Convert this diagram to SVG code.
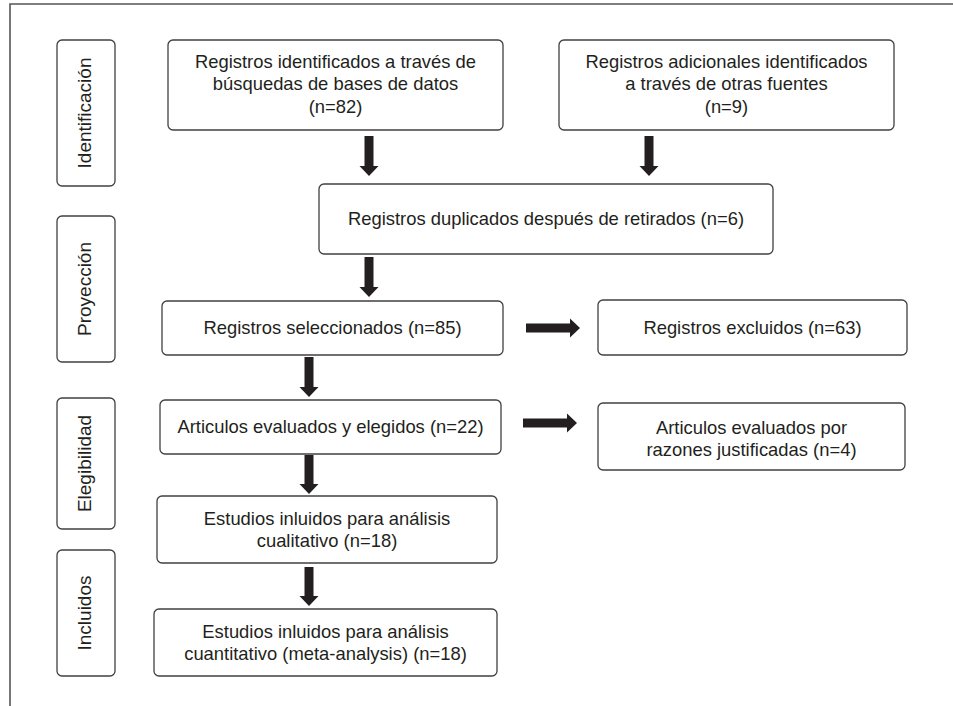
<svg xmlns="http://www.w3.org/2000/svg" width="953" height="706" viewBox="0 0 953 706">
<style>
.frame{fill:none;stroke:#555;stroke-width:1.6}
.box{fill:#fff;stroke:#404040;stroke-width:1.3}
.t{font-family:"Liberation Sans",Arial,sans-serif;font-size:18.4px;fill:#231f20;text-anchor:middle}
.s{font-size:19px}
.arr{fill:#231f20;stroke:none}
</style>
<rect width="953" height="706" fill="#fff"/>
<path class="frame" d="M10,706 V4 H953"/>

<g id="phase-identificacion"><rect class="box" x="57" y="40" width="58" height="146" rx="5"/><text class="t s" transform="translate(90.5,113) rotate(-90)">Identificación</text></g>
<g id="phase-proyeccion"><rect class="box" x="57" y="216" width="58" height="146" rx="5"/><text class="t s" transform="translate(90.5,289) rotate(-90)">Proyección</text></g>
<g id="phase-elegibilidad"><rect class="box" x="57" y="398" width="58" height="131" rx="5"/><text class="t s" transform="translate(90.5,463.5) rotate(-90)">Elegibilidad</text></g>
<g id="phase-incluidos"><rect class="box" x="57" y="550" width="58" height="126" rx="5"/><text class="t s" transform="translate(90.5,613) rotate(-90)">Incluidos</text></g>

<g id="n-db"><rect class="box" x="168" y="40" width="335" height="90" rx="5"/>
<text class="t" x="335.5" y="68">Registros identificados a través de</text>
<text class="t" x="335.5" y="90.3">búsquedas de bases de datos</text>
<text class="t" x="335.5" y="112.6">(n=82)</text></g>

<g id="n-other"><rect class="box" x="559" y="40" width="335" height="90" rx="5"/>
<text class="t" x="726.5" y="68">Registros adicionales identificados</text>
<text class="t" x="726.5" y="90.3">a través de otras fuentes</text>
<text class="t" x="726.5" y="112.6">(n=9)</text></g>

<g id="n-dup"><rect class="box" x="319" y="184" width="454" height="70" rx="5"/>
<text class="t" x="546" y="225">Registros duplicados después de retirados (n=6)</text></g>

<g id="n-sel"><rect class="box" x="162" y="301" width="341" height="54" rx="5"/>
<text class="t" x="332.5" y="334">Registros seleccionados (n=85)</text></g>

<g id="n-excl"><rect class="box" x="598" y="300" width="309" height="55" rx="5"/>
<text class="t" x="752.5" y="334">Registros excluidos (n=63)</text></g>

<g id="n-eleg"><rect class="box" x="160" y="400" width="341" height="54" rx="5"/>
<text class="t" x="330.5" y="433">Articulos evaluados y elegidos (n=22)</text></g>

<g id="n-just"><rect class="box" x="598" y="403" width="307" height="67" rx="5"/>
<text class="t" x="751.5" y="433.5">Articulos evaluados por</text>
<text class="t" x="751.5" y="455.5">razones justificadas (n=4)</text></g>

<g id="n-cual"><rect class="box" x="157" y="496" width="340" height="67" rx="5"/>
<text class="t" x="327" y="525">Estudios inluidos para análisis</text>
<text class="t" x="327" y="547">cualitativo (n=18)</text></g>

<g id="n-cuant"><rect class="box" x="154" y="609" width="343" height="67" rx="5"/>
<text class="t" x="325.5" y="637.5">Estudios inluidos para análisis</text>
<text class="t" x="325.5" y="660">cuantitativo (meta-analysis) (n=18)</text></g>

<g id="connectors">
<polygon class="arr" points="364.5,136 373.5,136 373.5,166 378.5,166 369,176 359.5,166 364.5,166"/>
<polygon class="arr" points="644.5,136 653.5,136 653.5,166 658.5,166 649,176 639.5,166 644.5,166"/>
<polygon class="arr" points="364.5,257 373.5,257 373.5,287 378.5,287 369,297 359.5,287 364.5,287"/>
<polygon class="arr" points="304.5,357 313.5,357 313.5,387 318.5,387 309,397 299.5,387 304.5,387"/>
<polygon class="arr" points="304.5,455 313.5,455 313.5,484 318.5,484 309,494 299.5,484 304.5,484"/>
<polygon class="arr" points="304.5,567 313.5,567 313.5,596 318.5,596 309,606 299.5,596 304.5,596"/>
<polygon class="arr" points="526,323.5 570,323.5 570,318.5 580,328 570,337.5 570,332.5 526,332.5"/>
<polygon class="arr" points="523,418.5 567,418.5 567,413.5 577,423 567,432.5 567,427.5 523,427.5"/>
</g>
</svg>
